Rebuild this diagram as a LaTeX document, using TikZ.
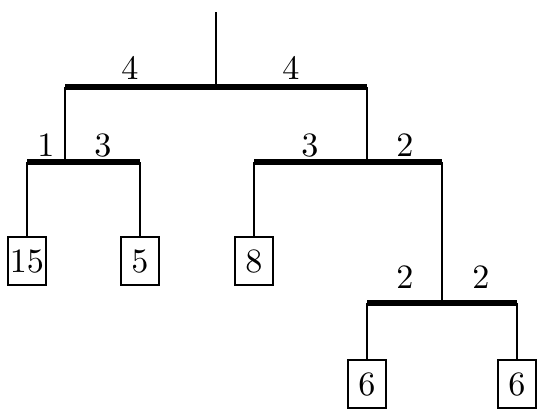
\documentclass[tikz,border=0pt]{standalone}
\usetikzlibrary{positioning}

\begin{document}
\begin{tikzpicture}[x=0.293pt, y=-0.293pt,
  rod/.style={line width=1.6pt},
  wire/.style={line width=0.6pt},
  weight/.style={draw, line width=0.6pt, minimum width=11.1pt, minimum height=14.1pt, inner sep=0pt}]
\useasboundingbox (0,0) rectangle (546,418);
% top bar
\coordinate (hook) at (216,12);
\coordinate (top) at (216,87);
\coordinate (topL) at (65,87);
\coordinate (topR) at (367,87);
\draw[wire] (hook) -- (top);
\draw[rod] (topL) -- (topR);
\node (a4) at (130,68) {4};
\node (b4) at (291,68) {4};
% left bar
\coordinate (left) at (65,162);
\coordinate (leftL) at (27,162);
\coordinate (leftR) at (140,162);
\draw[wire] (topL) -- (left);
\draw[rod] (leftL) -- (leftR);
\node (c1) at (46,145) {1};
\node (c3) at (103,145) {3};
\node[weight] (w15) at (27,261) {15};
\node[weight] (w5) at (140,261) {5};
\draw[wire] (leftL) -- (w15.north);
\draw[wire] (leftR) -- (w5.north);
% right bar
\coordinate (right) at (367,162);
\coordinate (rightL) at (254,162);
\coordinate (rightR) at (442,162);
\draw[wire] (topR) -- (right);
\draw[rod] (rightL) -- (rightR);
\node (d3) at (310,145) {3};
\node (d2) at (405,145) {2};
\node[weight] (w8) at (254,261) {8};
\draw[wire] (rightL) -- (w8.north);
% low bar
\coordinate (low) at (442,303);
\coordinate (lowL) at (367,303);
\coordinate (lowR) at (517,303);
\draw[wire] (rightR) -- (low);
\draw[rod] (lowL) -- (lowR);
\node (e2) at (405,277) {2};
\node (f2) at (481,277) {2};
\node[weight] (w6a) at (367,384) {6};
\node[weight] (w6b) at (517,384) {6};
\draw[wire] (lowL) -- (w6a.north);
\draw[wire] (lowR) -- (w6b.north);
\end{tikzpicture}
\end{document}
